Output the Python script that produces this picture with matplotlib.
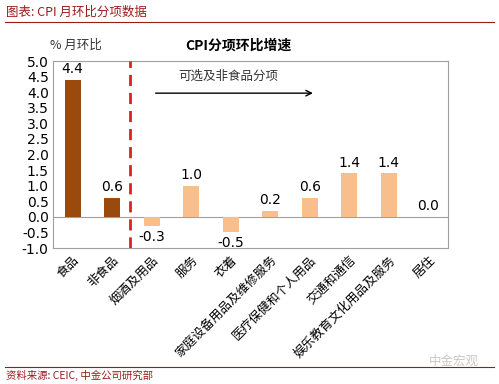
"""CPI month-on-month by component"""
import matplotlib.pyplot as plt
import numpy as np

plt.rcParams['font.family'] = ['Noto Sans CJK SC', 'DejaVu Sans']

categories = ['食品', '非食品', '烟酒及用品', '服务', '衣着', '家庭设备用品及维修服务',
              '医疗保健和个人用品', '交通和通信', '娱乐教育文化用品及服务', '居住']
# first two are the headline split, the rest are sub-items
values = [4.4, 0.6, -0.3, 1.0, -0.5, 0.2, 0.6, 1.4, 1.4, 0.0]
yticks = np.arange(-1.0, 5.01, 0.5)

dark = '#9A4A0C'
light = '#F8BF8C'
colors = [dark, dark] + [light] * (len(values) - 2)

fig = plt.figure(figsize=(4.99, 3.84), dpi=100)
ax = fig.add_axes([0.106, 0.354, 0.792, 0.487])

x = np.arange(len(categories))
ax.bar(x, values, width=0.41, color=colors, zorder=3)
ax.axhline(0, color='#A0A0A0', lw=0.8, zorder=2)

for xi, v in zip(x, values):
    if v >= 0:
        ax.text(xi, v + 0.12, '%.1f' % v, ha='center', va='bottom', fontsize=10,
                family='DejaVu Sans')
    else:
        ax.text(xi, v - 0.12, '%.1f' % v, ha='center', va='top', fontsize=10,
                family='DejaVu Sans')

# split between headline and sub-items
ax.axvline(1.45, color='#E02020', lw=2, ls=(0, (4, 2.5)), zorder=4)

ax.set_xlim(-0.5, len(categories) - 0.5)
ax.set_ylim(-1.0, 5.0)
ax.set_yticks(yticks)
ax.set_yticklabels(['%.1f' % t for t in yticks], family='DejaVu Sans', fontsize=10)
ax.set_xticks(x)
ax.set_xticklabels(categories, rotation=45, ha='right', rotation_mode='anchor', fontsize=9)
ax.tick_params(axis='y', length=0, pad=3)
ax.tick_params(axis='x', length=0, pad=4)
for s in ax.spines.values():
    s.set_color('#A0A0A0')
    s.set_linewidth(0.8)

# arrow + note
ax.annotate('', xy=(6.15, 3.97), xytext=(2.03, 3.97),
            arrowprops=dict(arrowstyle='->', color='black', lw=1))
ax.text(3.93, 4.52, '可选及非食品分项', ha='center', va='center', fontsize=9, color='#333333')

fig.text(0.478, 0.882, 'CPI分项环比增速', ha='center', va='center', fontsize=10,
         fontweight='bold')
fig.text(0.1, 0.882, '% 月环比', ha='left', va='center', fontsize=9, color='#333333')

# header / footer
fig.text(0.012, 0.968, '图表: CPI 月环比分项数据', ha='left', va='center', fontsize=9,
         color='#9B1B1B', style='italic')
fig.add_artist(plt.Line2D([0.01, 0.99], [0.943, 0.943], color='#9B1B1B', lw=0.8))
fig.add_artist(plt.Line2D([0.01, 0.99], [0.045, 0.045], color='#9B1B1B', lw=0.8))
fig.text(0.012, 0.022, '资料来源: CEIC, 中金公司研究部', ha='left', va='center', fontsize=7.5,
         color='#9B1B1B', style='italic')
fig.text(0.96, 0.058, '中金宏观', ha='right', va='center', fontsize=9, color='#C8C8C8')

plt.savefig('out.png', dpi=100)
